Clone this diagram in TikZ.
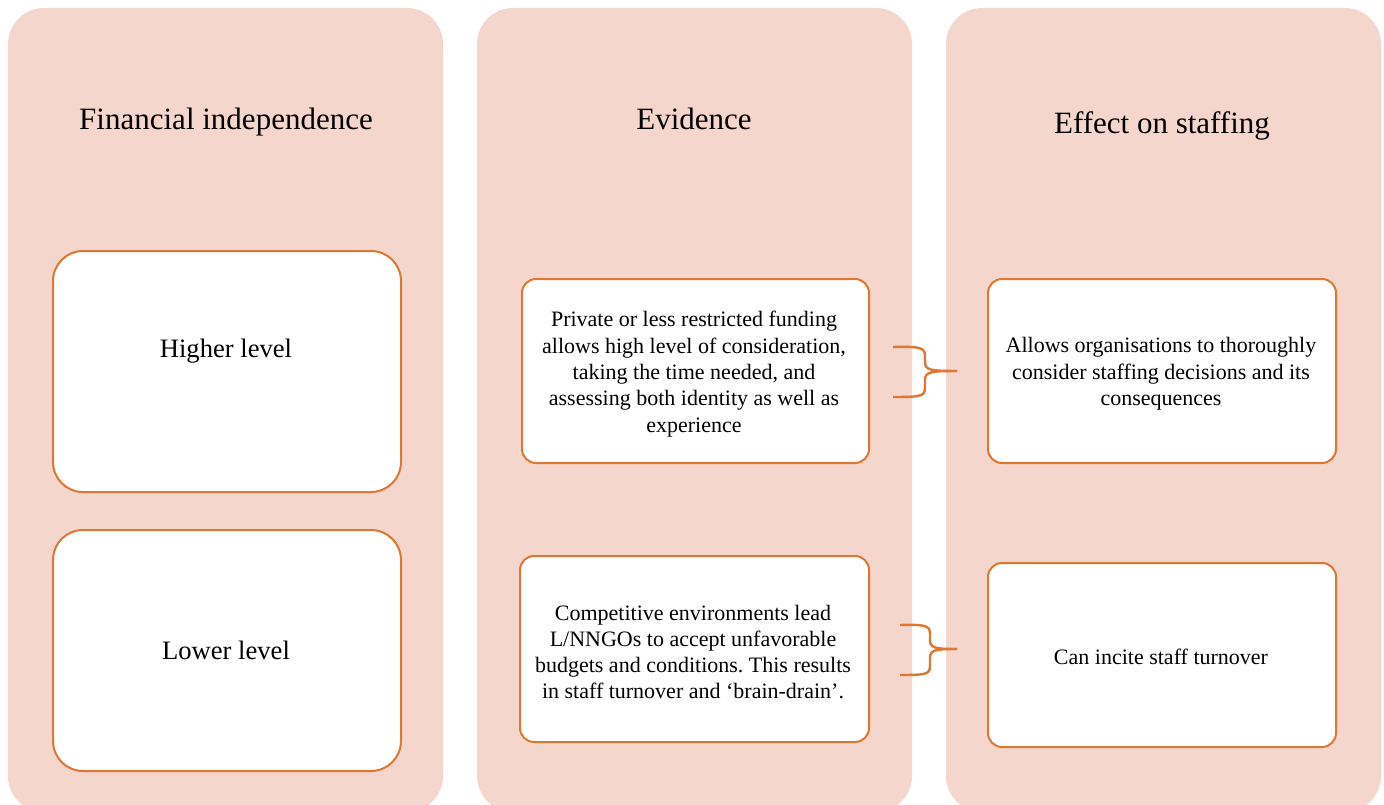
\documentclass[tikz,border=0pt]{standalone}
\usepackage{fontspec}
\setmainfont{Liberation Serif}
\definecolor{colfill}{RGB}{244,214,204}
\definecolor{edge}{RGB}{222,118,52}
\frenchspacing
\begin{document}
\begin{tikzpicture}[x=1pt,y=-1pt,
  column/.style={fill=colfill,draw=none,rounded corners=36pt},
  bigbox/.style={draw=edge,line width=2pt,fill=white,rounded corners=30pt},
  textbox/.style={draw=edge,line width=2pt,fill=white,rounded corners=14pt},
  title/.style={font=\fontsize{31}{36}\selectfont},
  label/.style={font=\fontsize{26.6}{30}\selectfont},
  body/.style={font=\fontsize{22}{26.3}\selectfont,align=center},
  brace/.style={draw=edge,line width=2.4pt}]
\useasboundingbox (0,0) rectangle (1384,805);
\begin{scope}
\clip (0,0) rectangle (1384,805);
% three background columns
\draw[column] (8,8) rectangle (443,812);
\draw[column] (477,8) rectangle (912,812);
\draw[column] (946,8) rectangle (1381,812);
\end{scope}
% column headings
\node[title] (t1) at (226,122) {Financial independence};
\node[title] (t2) at (694,119) {Evidence};
\node[title] (t3) at (1162,126) {Effect on staffing};
% financial independence levels
\draw[bigbox] (53,251) rectangle (401,492);
\node[label] (hi) at (226,351) {Higher level};
\draw[bigbox] (53,530) rectangle (401,771);
\node[label] (lo) at (226,650) {Lower level};
% evidence boxes
\draw[textbox] (522,279) rectangle (869,463);
\node[body] (ev1) at (694,374) {Private or less restricted funding\\allows high level of consideration,\\taking the time needed, and\\assessing both identity as well as\\experience};
\draw[textbox] (520,556) rectangle (869,742);
\node[body] (ev2) at (693,652) {Competitive environments lead\\L/NNGOs to accept unfavorable\\budgets and conditions. This results\\in staff turnover and `brain-drain'.};
% effect boxes
\draw[textbox] (988,279) rectangle (1336,463);
\node[body] (ef1) at (1161,374) {Allows organisations to thoroughly\\consider staffing decisions and its\\consequences};
\draw[textbox] (988,563) rectangle (1336,747);
\node[body] (ef2) at (1161,657) {Can incite staff turnover};
% braces joining evidence to effect
\coordinate (b1a) at (893,347);
\coordinate (b1b) at (893,397);
\coordinate (b1t) at (957,371);
\draw[brace] (b1a) .. controls (925,346) and (925,349) .. (925,358) -- (925,362)
  .. controls (925,370) and (930,371) .. (b1t);
\draw[brace] (b1t) .. controls (930,371) and (925,372) .. (925,380) -- (925,385)
  .. controls (925,396) and (925,397) .. (b1b);
\coordinate (b2a) at (900,625);
\coordinate (b2b) at (900,675);
\coordinate (b2t) at (957,649);
\draw[brace] (b2a) .. controls (930,624) and (930,627) .. (930,636) -- (930,640)
  .. controls (930,648) and (935,649) .. (b2t);
\draw[brace] (b2t) .. controls (935,649) and (930,650) .. (930,658) -- (930,663)
  .. controls (930,674) and (930,675) .. (b2b);
\end{tikzpicture}
\end{document}
